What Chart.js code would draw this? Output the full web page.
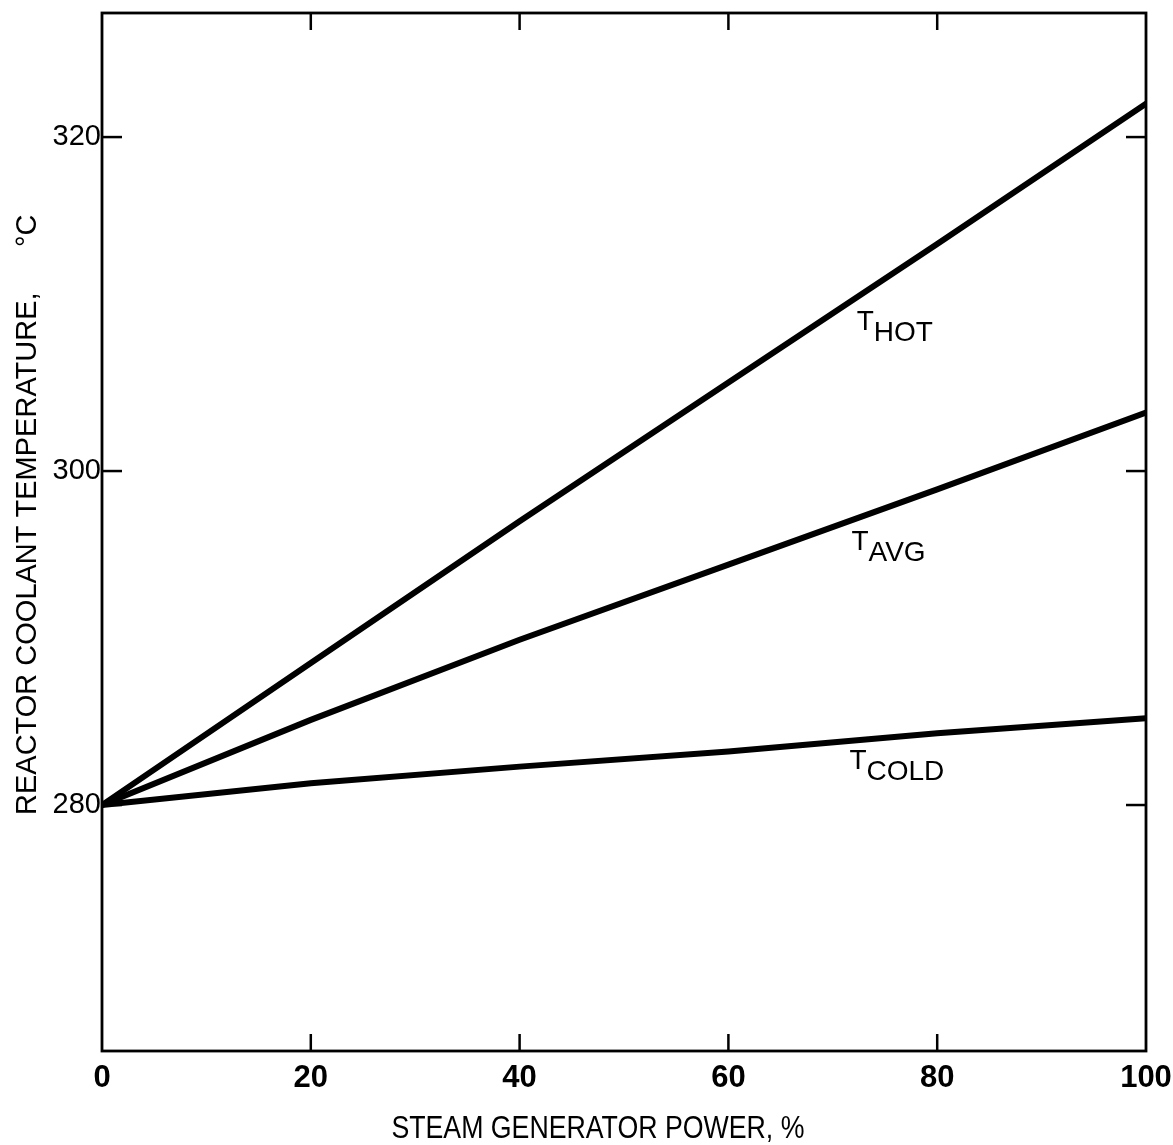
<!DOCTYPE html>
<html>
<head>
<meta charset="utf-8">
<script src="https://cdn.jsdelivr.net/npm/chart.js@4.4.0/dist/chart.umd.min.js"></script>
<style>
  body { margin: 0; background: #fff; }
  #wrap { width: 1173px; height: 1145px; }
</style>
</head>
<body>
<div id="wrap"><canvas id="myChart" width="1173" height="1145"></canvas></div>
<script>
'use strict'
// values
let power = [0, 20, 40, 60, 80, 100];
let tHot = [280, 288.5, 297.0, 305.3, 313.6, 322.0];
let tAvg = [280, 285.1, 289.9, 294.4, 298.9, 303.5];
let tCold = [280, 281.3, 282.3, 283.2, 284.3, 285.2];

let tempTicks = [280, 300, 320];
let powerTicks = [0, 20, 40, 60, 80, 100];
let curveNames = ['HOT', 'AVG', 'COLD'];
let xTitle = 'STEAM GENERATOR POWER, %';

function points(values) {
  return values.map((v, i) => ({ x: power[i], y: v }));
}

function line(ctx, x1, y1, x2, y2) {
  ctx.beginPath();
  ctx.moveTo(x1, y1);
  ctx.lineTo(x2, y2);
  ctx.stroke();
}

// frame, inward tick marks, curve names and the axis titles
let decor = {
  id: 'decor',
  afterDraw(chart) {
    let ctx = chart.ctx;
    let a = chart.chartArea;
    let xs = chart.scales.x;
    let ys = chart.scales.y;
    ctx.save();
    ctx.strokeStyle = '#000';
    ctx.fillStyle = '#000';
    ctx.lineWidth = 2.8;
    ctx.strokeRect(a.left, a.top, a.right - a.left, a.bottom - a.top);

    ctx.lineWidth = 2.5;
    powerTicks.slice(1, -1).forEach(v => {
      let px = xs.getPixelForValue(v);
      line(ctx, px, a.bottom, px, a.bottom - 17);
      line(ctx, px, a.top, px, a.top + 17);
    });
    tempTicks.forEach(v => {
      let py = ys.getPixelForValue(v);
      line(ctx, a.left, py, a.left + 20, py);
      line(ctx, a.right, py, a.right - 20, py);
    });

    // curve names, "T" with subscript
    let spots = [[72.3, 307.8], [71.8, 294.6], [71.6, 281.5]];
    ctx.font = '28px "Liberation Sans", Arial, sans-serif';
    ctx.textBaseline = 'alphabetic';
    ctx.textAlign = 'left';
    spots.forEach((s, i) => {
      let px = xs.getPixelForValue(s[0]);
      let py = ys.getPixelForValue(s[1]);
      ctx.fillText('T', px, py - 11);
      ctx.fillText(curveNames[i], px + 17, py);
    });

    // x title, squeezed like the condensed face of the original
    ctx.save();
    ctx.font = '32px "Liberation Sans", Arial, sans-serif';
    let w = ctx.measureText(xTitle).width;
    ctx.translate(xs.getPixelForValue(47.5), 1138);
    ctx.scale(413 / w, 1);
    ctx.textAlign = 'center';
    ctx.fillText(xTitle, 0, 0);
    ctx.restore();

    // y title
    ctx.translate(36, 815);
    ctx.rotate(-Math.PI / 2);
    ctx.font = '29px "Liberation Sans", Arial, sans-serif';
    ctx.fillText('REACTOR COOLANT TEMPERATURE,', 0, 0);
    ctx.fillText('\u00B0C', 568, 0);
    ctx.restore();
  }
};

let ctx = document.getElementById('myChart').getContext('2d');

let chart = new Chart(ctx, {
  type: 'line',
  data: {
    datasets: [
      { label: 'T hot', data: points(tHot) },
      { label: 'T avg', data: points(tAvg) },
      { label: 'T cold', data: points(tCold) }
    ]
  },
  options: {
    responsive: false,
    animation: false,
    layout: { padding: { top: 13, right: 27, left: 0, bottom: 0 } },
    elements: {
      line: { borderColor: '#000', borderWidth: 6, tension: 0, fill: false, borderCapStyle: 'round' },
      point: { radius: 0 }
    },
    plugins: {
      legend: { display: false },
      tooltip: { enabled: false }
    },
    scales: {
      x: {
        type: 'linear',
        min: 0,
        max: 100,
        grid: { display: false, drawTicks: false },
        border: { display: false },
        afterBuildTicks: scale => { scale.ticks = powerTicks.map(v => ({ value: v })); },
        afterFit: scale => {
          scale.height = 94;
          scale.paddingLeft = 0;
          scale.paddingRight = 0;
        },
        ticks: {
          color: '#000',
          padding: 9,
          maxRotation: 0,
          font: { family: '"Liberation Sans", Arial, sans-serif', size: 31, weight: 'bold' }
        },
        title: { display: false }
      },
      y: {
        min: 265.27,
        max: 327.43,
        grid: { display: false, drawTicks: false },
        border: { display: false },
        afterBuildTicks: scale => { scale.ticks = tempTicks.map(v => ({ value: v })); },
        afterFit: scale => {
          scale.width = 102;
          scale.paddingTop = 0;
          scale.paddingBottom = 0;
        },
        ticks: {
          color: '#000',
          padding: 1,
          font: { family: '"Liberation Sans", Arial, sans-serif', size: 29 }
        }
      }
    }
  },
  plugins: [decor]
});
</script>
</body>
</html>
